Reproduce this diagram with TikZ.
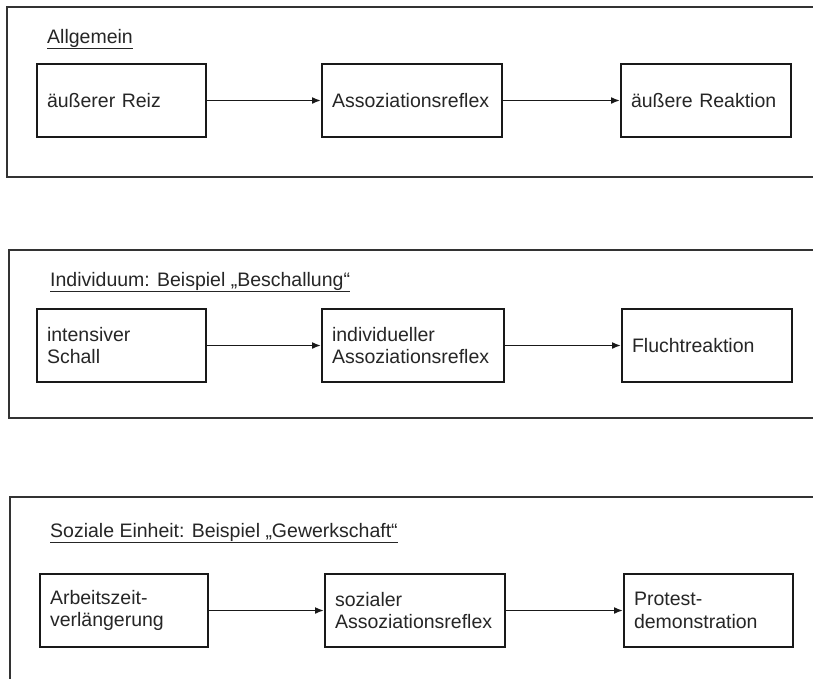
\documentclass[tikz,border=0pt]{standalone}
\usepackage{fontspec}
\setmainfont{Liberation Sans}
\usetikzlibrary{calc}
\usetikzlibrary{arrows.meta}

\begin{document}
\begin{tikzpicture}[x=1pt,y=-1pt,
	rahmen/.style={draw=black!80,line width=2pt},
	kasten/.style={draw=black!90,line width=2pt,anchor=north west,
		minimum height=73pt,inner xsep=10pt,inner ysep=0pt,align=left,
		text width=#1,text=black!85,font=\fontsize{19.5}{22.5}\selectfont},
	titel/.style={anchor=base west,inner sep=0pt,text=black!85,
		font=\fontsize{19.5}{22.5}\selectfont},
	pfeil/.style={-{Latex[length=9pt,width=7pt]},line width=1.7pt,draw=black!90}]
	
	% Bildausschnitt
	\clip (0,0) rectangle (813,678);
	\fill [white] (0,0) rectangle (813,678);
	
	\coordinate (ll1) at (7,177);
	\coordinate (ur1) at (850,7);
	\coordinate (ll2) at (9,418);
	\coordinate (ur2) at (850,250);
	\coordinate (ll3) at (10,720);
	\coordinate (ur3) at (850,497);
	
	% Rahmen "Allgemein"
	\draw [rahmen] (ll1) rectangle (ur1);
	\node [titel] (t1) at (47,43) {\underline{Allgemein}};
	\node [kasten=149pt] (a1) at (36,63) {äußerer Reiz};
	\node [kasten=160pt] (a2) at (321,63) {Assoziationsreflex};
	\node [kasten=150pt] (a3) at (620,63) {äußere Reaktion};
	\draw [pfeil] (a1) -- (a2);
	\draw [pfeil] (a2) -- (a3);
	
	% Rahmen "Individuum"
	\draw [rahmen] (ll2) rectangle (ur2);
	\node [titel] (t2) at (50,286) {\underline{Individuum: Beispiel „Beschallung“}};
	\node [kasten=149pt] (b1) at (36,308) {intensiver\\Schall};
	\node [kasten=162pt] (b2) at (321,308) {individueller\\Assoziationsreflex};
	\node [kasten=150pt] (b3) at (621,308) {Fluchtreaktion};
	\draw [pfeil] (b1) -- (b2);
	\draw [pfeil] (b2) -- (b3);
	
	% Rahmen "Soziale Einheit"
	\draw [rahmen] (ll3) rectangle (ur3);
	\node [titel] (t3) at (50,537) {\underline{Soziale Einheit: Beispiel „Gewerkschaft“}};
	\node [kasten=148pt] (c1) at (39,573) {Arbeitszeit-\\verlängerung};
	\node [kasten=160pt] (c2) at (324,573) {sozialer\\Assoziationsreflex};
	\node [kasten=149pt] (c3) at (623,573) {Protest-\\demonstration};
	\draw [pfeil] (c1) -- (c2);
	\draw [pfeil] (c2) -- (c3);
	
\end{tikzpicture}
\end{document}
